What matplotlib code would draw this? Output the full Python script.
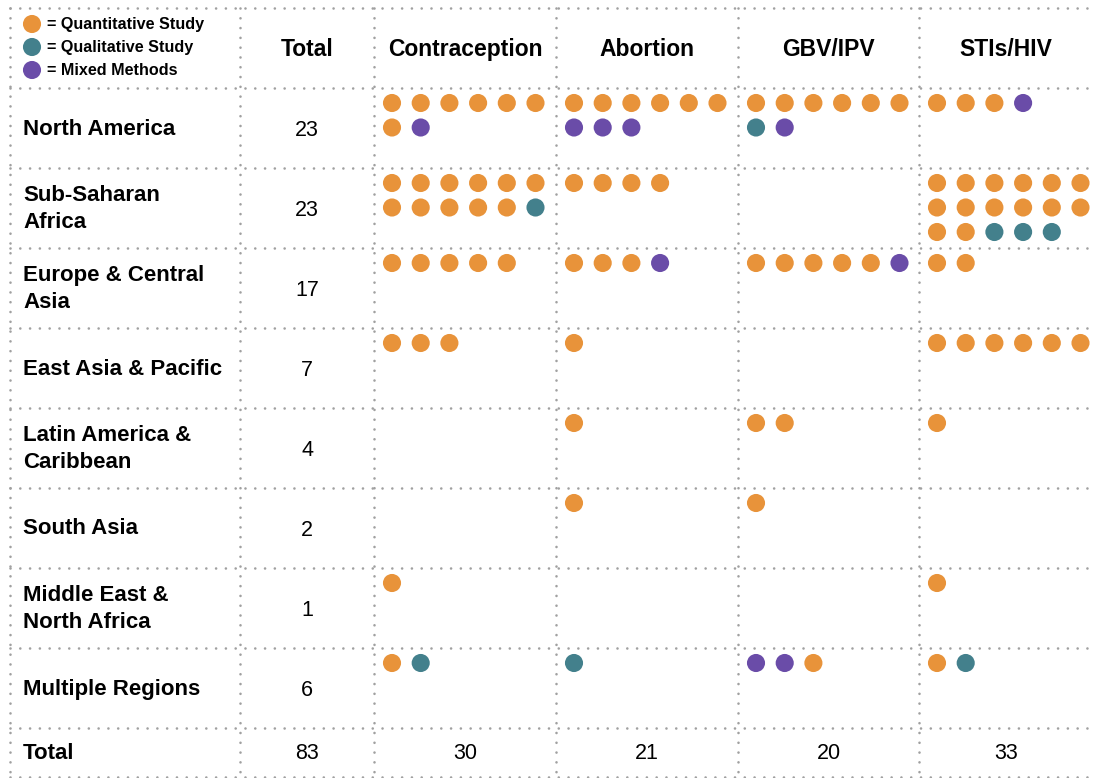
import matplotlib
matplotlib.use("Agg")
import matplotlib.pyplot as plt

# study types: Q = quantitative, L = qualitative, M = mixed methods
regions = ["North America", "Sub-Saharan\nAfrica", "Europe & Central\nAsia",
           "East Asia & Pacific", "Latin America &\nCaribbean", "South Asia",
           "Middle East &\nNorth Africa", "Multiple Regions"]
region_totals = [23, 23, 17, 7, 4, 2, 1, 6]

topics = ["Contraception", "Abortion", "GBV/IPV", "STIs/HIV"]
topic_totals = [30, 21, 20, 33]
grand_total = 83

contraception = ["QQQQQQQM", "QQQQQQQQQQQL", "QQQQQ", "QQQ", "", "", "Q", "QL"]
abortion = ["QQQQQQMMM", "QQQQ", "QQQM", "Q", "Q", "Q", "", "L"]
gbv_ipv = ["QQQQQQLM", "", "QQQQQM", "", "QQ", "Q", "", "MMQ"]
stis_hiv = ["QQQM", "QQQQQQQQQQQQQQLLL", "QQ", "QQQQQQ", "Q", "", "Q", "QL"]
cells = [contraception, abortion, gbv_ipv, stis_hiv]

colors = {"Q": "#E8933A", "L": "#43808C", "M": "#6A4CA8"}
legend_labels = [("Q", "= Quantitative Study"), ("L", "= Qualitative Study"),
                 ("M", "= Mixed Methods")]

plt.rcParams["font.family"] = ["Liberation Sans", "DejaVu Sans"]

W, H = 1093, 778
fig = plt.figure(figsize=(W / 100, H / 100), dpi=100)
ax = fig.add_axes([0, 0, 1, 1])
ax.set_xlim(0, W)
ax.set_ylim(H, 0)
ax.axis("off")

# grid layout (pixel units)
col_edges = [10, 240, 374, 556, 738, 919]
col_right = W
row_top = 8
header_h = 80
row_h = 80
row_edges = [row_top + header_h + i * row_h for i in range(len(regions) + 1)]
bottom = 777

grid_kw = dict(color="#A0A0A0", lw=1.9, linestyle=(0, (0.01, 3.7)),
               dash_capstyle="round")
for y in [row_top] + row_edges + [bottom]:
    ax.plot([col_edges[0], col_right], [y, y], **grid_kw)
for x in col_edges:
    ax.plot([x, x], [row_top, bottom], **grid_kw)

# legend
for i, (k, lab) in enumerate(legend_labels):
    y = 24 + i * 23
    ax.scatter([32], [y], s=170, color=colors[k], edgecolors="none", zorder=3)
    ax.text(47, y, lab, fontsize=11.6, fontweight="bold", va="center", ha="left")

# headers
hy = row_top + header_h / 2 + 1
total_x = (col_edges[1] + col_edges[2]) / 2
ax.text(total_x, hy, "Total", fontsize=16.5, fontweight="bold", ha="center", va="center")
cell_lefts = col_edges[2:]
cell_rights = col_edges[3:] + [col_right]
for t, l, r in zip(topics, cell_lefts, cell_rights):
    ax.text((l + r) / 2, hy, t, fontsize=16.5, fontweight="bold", ha="center", va="center")

# rows
dx, dy = 28.7, 24.5
for ri, (reg, tot) in enumerate(zip(regions, region_totals)):
    top = row_edges[ri]
    cy = top + row_h / 2
    ax.text(23, cy + 1, reg, fontsize=16, fontweight="bold", ha="left", va="center",
            linespacing=1.4)
    ax.text(total_x, cy + 2, str(tot), fontsize=15.5, ha="center", va="center")
    for ci, col in enumerate(cells):
        seq = col[ri]
        xs = [cell_lefts[ci] + 18 + (j % 6) * dx for j in range(len(seq))]
        ys = [top + 15 + (j // 6) * dy for j in range(len(seq))]
        ax.scatter(xs, ys, s=170, c=[colors[k] for k in seq], edgecolors="none", zorder=3)

# totals row
fy = (row_edges[-1] + bottom) / 2 + 1
ax.text(23, fy, "Total", fontsize=16, fontweight="bold", ha="left", va="center")
ax.text(total_x, fy, str(grand_total), fontsize=15.5, ha="center", va="center")
for t, l, r in zip(topic_totals, cell_lefts, cell_rights):
    ax.text((l + r) / 2, fy, str(t), fontsize=15.5, ha="center", va="center")

fig.savefig("out.png", dpi=100, facecolor="white")
